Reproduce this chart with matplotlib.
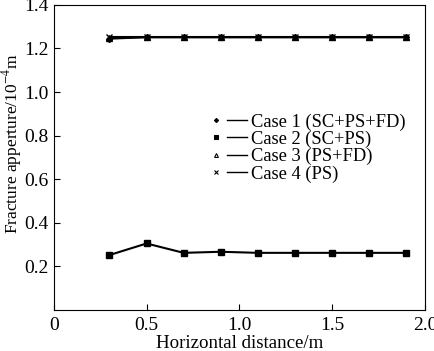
import matplotlib
matplotlib.use("Agg")
import matplotlib.pyplot as plt
from matplotlib.lines import Line2D
from matplotlib.legend_handler import HandlerTuple

plt.rcParams['font.family'] = ['Liberation Serif', 'DejaVu Serif']
plt.rcParams['mathtext.fontset'] = 'stix'

x = [0.3, 0.5, 0.7, 0.9, 1.1, 1.3, 1.5, 1.7, 1.9]
case1 = [1.245, 1.252, 1.252, 1.252, 1.252, 1.252, 1.252, 1.252, 1.252]
case2 = [0.252, 0.305, 0.262, 0.267, 0.262, 0.262, 0.262, 0.262, 0.262]
case3 = [1.25, 1.252, 1.252, 1.252, 1.252, 1.252, 1.252, 1.252, 1.252]
case4 = [1.252, 1.252, 1.252, 1.252, 1.252, 1.252, 1.252, 1.252, 1.252]
labels = ["Case 1 (SC+PS+FD)", "Case 2 (SC+PS)", "Case 3 (PS+FD)", "Case 4 (PS)"]

fig = plt.figure(figsize=(4.34, 3.51), dpi=100)
ax = fig.add_axes([0.124, 0.117, 0.855, 0.869])

series = [case1, case2, case3, case4]
markers = ["D", "s", "^", "x"]
msizes = [3, 4.5, 4, 5]
fills = ["k", "k", "none", "k"]
handles = []
for ys, m, ms, fc in zip(series, markers, msizes, fills):
    ax.plot(x, ys, color="k", lw=1.5, marker=m, ms=ms, mfc=fc, mec="k", mew=1)
    hm = Line2D([], [], ls="none", marker=m, ms=ms * 0.7, mfc=fc, mec="k", mew=0.8)
    hl = Line2D([], [], color="k", lw=1)
    handles.append((hm, hl))

# legend: small marker, then a short line, then the text
ax.legend(handles, labels, handler_map={tuple: HandlerTuple(ndivide=None, pad=0.1)},
          frameon=False, fontsize=13.3, loc="upper left", bbox_to_anchor=(0.385, 0.675),
          handlelength=2.2, handletextpad=0.25, labelspacing=0.0, borderpad=0)

ax.set_xlim(0, 2.0)
ax.set_ylim(0, 1.4)
ax.set_xticks([0, 0.5, 1.0, 1.5, 2.0])
ax.set_xticklabels(["0", "0.5", "1.0", "1.5", "2.0"])
ax.set_yticks([0.2, 0.4, 0.6, 0.8, 1.0, 1.2, 1.4])
ax.set_yticklabels(["0.2", "0.4", "0.6", "0.8", "1.0", "1.2", "1.4"])
ax.tick_params(direction="in", labelsize=14, length=4)
ax.tick_params(axis="x", pad=5)
ax.set_xlabel("Horizontal distance/m", fontsize=13.6, labelpad=1)
ax.set_ylabel("Fracture apperture/10$^{-4}$m", fontsize=12.5)
ax.yaxis.set_label_coords(-0.08, 0.545)

fig.savefig("out.png", dpi=100)
